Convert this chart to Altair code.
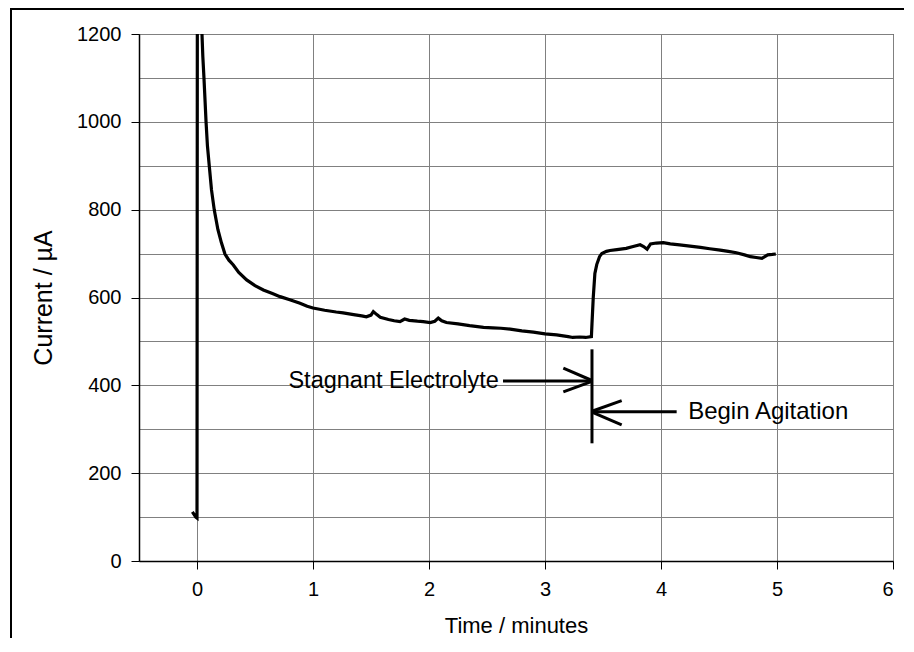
import altair as alt
import pandas as pd

# ---- data ----
time_min = [-0.04, -0.01, 0.0, 0.003, 0.03, 0.043, 0.05, 0.06, 0.07, 0.078, 0.09, 0.106, 0.125,
            0.149, 0.18, 0.21, 0.241, 0.275, 0.313, 0.36, 0.428, 0.5, 0.572, 0.65, 0.716, 0.8,
            0.888, 0.95, 1.0, 1.1, 1.2, 1.26, 1.35, 1.42, 1.46, 1.5, 1.52, 1.55, 1.58, 1.65,
            1.7, 1.75, 1.79, 1.83, 1.9, 1.95, 2.01, 2.05, 2.08, 2.11, 2.15, 2.25, 2.35, 2.47,
            2.55, 2.62, 2.70, 2.8, 2.9, 3.0, 3.1, 3.2, 3.24, 3.3, 3.35, 3.40,
            3.405, 3.416, 3.43, 3.446, 3.47, 3.49, 3.53, 3.56, 3.62, 3.70, 3.76, 3.82, 3.85,
            3.88, 3.91, 3.96, 4.02, 4.08, 4.16, 4.25, 4.34, 4.42, 4.51, 4.58, 4.65, 4.72,
            4.77, 4.82, 4.87, 4.92, 4.96, 4.99]
current_uA = [112, 100, 98, 1280, 1280, 1200, 1150, 1100, 1045, 1000, 945, 899, 845,
              799, 755, 725, 699, 685, 674, 657, 640, 627, 617, 609, 602, 595,
              587, 580, 576, 571, 567, 565, 561, 558, 556, 560, 568, 561, 555, 550,
              547, 545, 551, 548, 546, 545, 543, 546, 553, 547, 543, 540, 536, 532,
              531, 530, 528, 524, 521, 517, 515, 511, 509, 510, 509, 511,
              540, 600, 655, 675, 693, 700, 705, 707, 709, 712, 716, 720, 716,
              710, 722, 724, 725, 722, 720, 717, 714, 711, 708, 705, 702, 697,
              693, 691, 689, 697, 698, 699]

x_ticks = [0, 1, 2, 3, 4, 5, 6]
y_ticks = list(range(0, 1300, 100))

# annotation segments: (x, y, x2, y2) in data units
seg_x = [3.405, 2.638, 3.158, 3.158, 3.405, 3.661, 3.661]
seg_y = [268, 410, 439, 385, 340, 365, 310]
seg_x2 = [3.405, 3.405, 3.405, 3.405, 4.135, 3.405, 3.405]
seg_y2 = [482, 410, 411, 409, 340, 341, 339]

ann_text = ["Stagnant Electrolyte", "Begin Agitation"]
ann_x = [2.61, 4.26]
ann_y = [410, 340]
ann_align = ["right", "left"]

FONT = "Liberation Sans"

df = pd.DataFrame({"t": time_min, "i": current_uA, "o": range(len(time_min))})
seg = pd.DataFrame({"x": seg_x, "y": seg_y, "x2": seg_x2, "y2": seg_y2})
ann = pd.DataFrame({"text": ann_text, "x": ann_x, "y": ann_y, "align": ann_align})

xscale = alt.Scale(domain=[-0.5, 6], nice=False, zero=False)
yscale = alt.Scale(domain=[0, 1200], nice=False)

xaxis = alt.Axis(values=x_ticks, title="Time / minutes", grid=True, gridColor="#808080",
                 gridWidth=1, tickSize=8, tickColor="black", domainColor="black",
                 domainWidth=1.5, labelFontSize=20, labelPadding=10, titleFontSize=22,
                 titlePadding=16, format="d")
yaxis = alt.Axis(values=y_ticks, title="Current / µA", grid=True, gridColor="#808080",
                 gridWidth=1, tickSize=8, tickColor="black", domainColor="black",
                 domainWidth=1.5, labelFontSize=20, labelPadding=10, titleFontSize=25,
                 titlePadding=20,
                 labelExpr="datum.value % 200 === 0 ? datum.label : ''",
                 tickOpacity={"condition": {"test": "datum.value % 200 === 0", "value": 1},
                              "value": 0},
                 format="d")

line = alt.Chart(df).mark_line(color="black", strokeWidth=3.2, clip=True).encode(
    x=alt.X("t:Q", scale=xscale, axis=xaxis),
    y=alt.Y("i:Q", scale=yscale, axis=yaxis),
    order="o:Q",
)

rules = alt.Chart(seg).mark_rule(color="black", strokeWidth=3).encode(
    x="x:Q", y="y:Q", x2="x2:Q", y2="y2:Q"
)

texts_r = alt.Chart(ann[ann["align"] == "right"]).mark_text(
    align="right", baseline="middle", font=FONT, fontSize=23.5, color="black", dx=-1
).encode(x="x:Q", y="y:Q", text="text:N")

texts_l = alt.Chart(ann[ann["align"] == "left"]).mark_text(
    align="left", baseline="middle", font=FONT, fontSize=24, color="black", dx=-3
).encode(x="x:Q", y="y:Q", text="text:N")

border = alt.Chart(pd.DataFrame({"a": [0]})).mark_rect(
    fill="transparent", stroke="black", strokeWidth=2
).encode(x=alt.value(-128), x2=alt.value(900), y=alt.value(-25), y2=alt.value(700))

chart = alt.layer(border, line, rules, texts_r, texts_l).properties(
    width=754, height=527,
    autosize=alt.AutoSizeParams(type="none"),
    padding={"left": 131, "top": 26, "right": 11, "bottom": 77},
).configure_view(stroke="black", strokeWidth=1).configure_axis(
    labelFont=FONT, titleFont=FONT, titleFontWeight="normal", labelColor="black",
    titleColor="black"
)

chart.save("out.html", embed_options={"renderer": "svg", "actions": False})
